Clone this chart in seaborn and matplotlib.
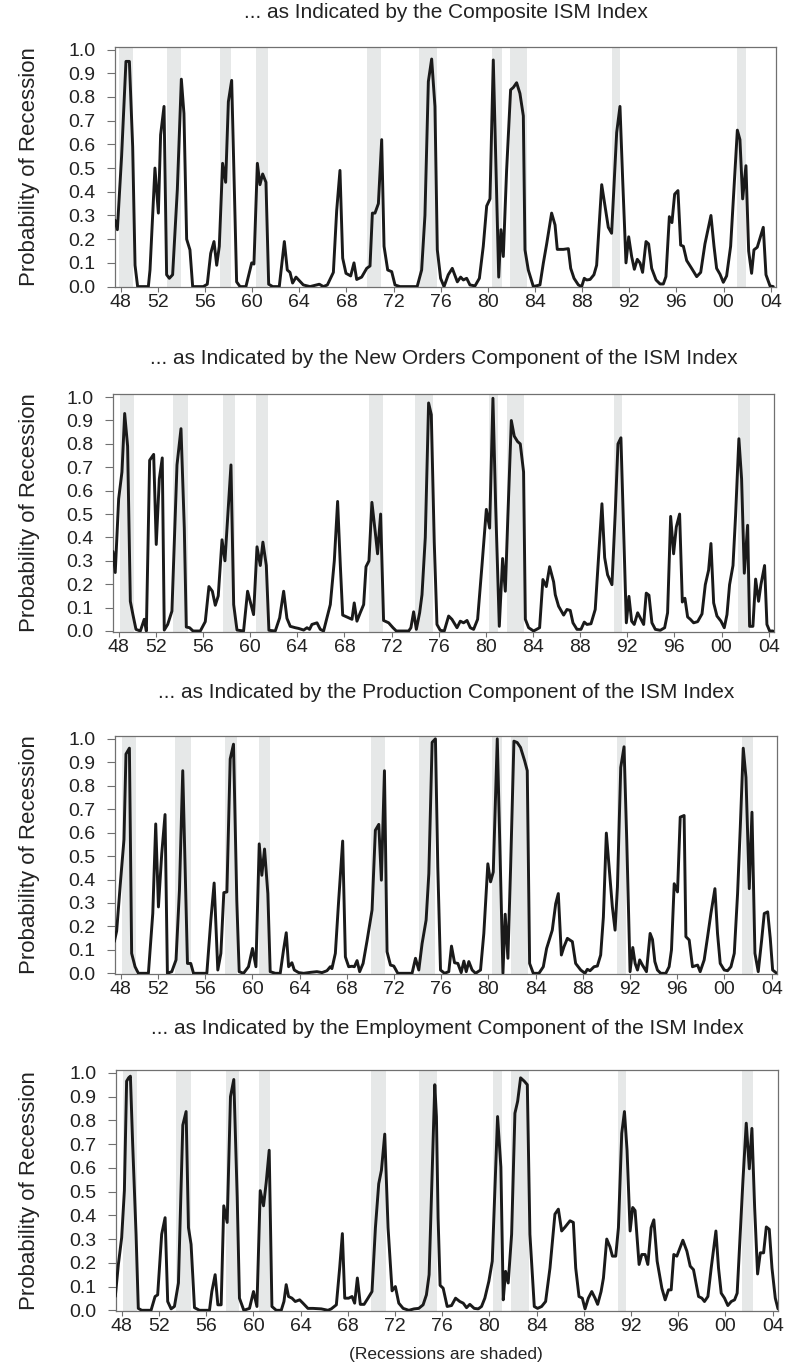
import numpy as np
import pandas as pd
import matplotlib
matplotlib.use("Agg")
import matplotlib.pyplot as plt
import seaborn as sns

# ---------------- data ----------------
titles = [
    "... as Indicated by the Composite ISM Index",
    "... as Indicated by the New Orders Component of the ISM Index",
    "... as Indicated by the Production Component of the ISM Index",
    "... as Indicated by the Employment Component of the ISM Index",
]
ylabel = "Probability of Recession"
footnote = "(Recessions are shaded)"

tick_years = [1948.85, 1952, 1956, 1960, 1964, 1968, 1972, 1976, 1980,
              1984, 1988, 1992, 1996, 2000, 2004]
tick_labels = ["48", "52", "56", "60", "64", "68", "72", "76", "80",
               "84", "88", "92", "96", "00", "04"]
ytick_values = [0.0, 0.1, 0.2, 0.3, 0.4, 0.5, 0.6, 0.7, 0.8, 0.9, 1.0]

# Composite ISM index
comp_year = [
    1948.36, 1948.56, 1948.92, 1949.29, 1949.58, 1949.86, 1950.06, 1950.28, 1951.19, 1951.33,
    1951.75, 1951.89, 1952.04, 1952.23, 1952.52, 1952.74, 1952.97, 1953.25, 1953.65, 1953.99,
    1954.21, 1954.44, 1954.72, 1954.95, 1955.85, 1956.19, 1956.48, 1956.76, 1956.99, 1957.21,
    1957.49, 1957.75, 1957.98, 1958.26, 1958.68, 1958.97, 1959.47, 1959.76, 1959.96, 1960.15,
    1960.44, 1960.66, 1960.89, 1961.17, 1961.40, 1961.74, 1962.30, 1962.73, 1962.98, 1963.21,
    1963.43, 1963.72, 1964.00, 1964.34, 1964.91, 1965.70, 1966.04, 1966.38,
    1966.89, 1967.17, 1967.45, 1967.68, 1967.96, 1968.36, 1968.64, 1968.87, 1969.29, 1969.72,
    1970.00, 1970.20, 1970.42, 1970.71, 1970.99, 1971.19, 1971.50, 1971.84, 1972.12, 1972.54,
    1973.11, 1973.67, 1974.00, 1974.38, 1974.66, 1974.95, 1975.23, 1975.51, 1975.71, 1975.99,
    1976.28, 1976.64, 1976.98, 1977.41, 1977.69, 1977.92, 1978.20, 1978.48, 1978.91, 1979.28,
    1979.61, 1979.90, 1980.18, 1980.46, 1980.69, 1980.92, 1981.11, 1981.31, 1981.59, 1981.93,
    1982.16, 1982.44, 1982.72, 1983.01, 1983.15, 1983.43, 1983.86, 1984.42, 1984.71, 1984.99,
    1985.41,
    1985.70, 1985.89, 1986.40, 1986.83, 1987.03, 1987.31, 1987.68, 1987.96, 1988.18, 1988.38,
    1988.67, 1989.00, 1989.23, 1989.66, 1989.94, 1990.22, 1990.50, 1990.93, 1991.21, 1991.44,
    1991.72, 1991.95, 1992.20, 1992.43, 1992.68, 1992.91, 1993.13, 1993.42, 1993.64, 1993.90,
    1994.27, 1994.61, 1994.89, 1995.11, 1995.40, 1995.62, 1995.85, 1996.13, 1996.36, 1996.59,
    1996.87, 1997.29, 1997.72, 1998.06, 1998.42, 1998.93, 1999.19, 1999.41, 1999.70, 1999.98,
    2000.26, 2000.60, 2000.88, 2001.17, 2001.39, 2001.62, 2001.90, 2002.13, 2002.38, 2002.58,
    2002.86, 2003.37, 2003.60, 2003.94, 2004.22,
]
comp_prob = [
    0.28, 0.24, 0.55, 0.95, 0.95, 0.59, 0.09, 0.0, 0.0, 0.07,
    0.50, 0.41, 0.31, 0.64, 0.76, 0.05, 0.035, 0.05, 0.41, 0.875,
    0.73, 0.20, 0.155, 0.0, 0.0, 0.01, 0.14, 0.19, 0.09, 0.17,
    0.52, 0.44, 0.78, 0.87, 0.02, 0.0, 0.0, 0.06, 0.10, 0.095,
    0.52, 0.43, 0.475, 0.44, 0.01, 0.0, 0.0, 0.19, 0.07, 0.06,
    0.015, 0.04, 0.025, 0.007, 0.0, 0.01, 0.0, 0.007,
    0.06, 0.32, 0.49, 0.12, 0.056, 0.045, 0.10, 0.03, 0.04, 0.077,
    0.087, 0.31, 0.31, 0.35, 0.62, 0.17, 0.07, 0.063, 0.007, 0.0,
    0.0, 0.0, 0.0, 0.07, 0.30, 0.865, 0.96, 0.76, 0.155, 0.035,
    0.0, 0.05, 0.077, 0.02, 0.04, 0.028, 0.035, 0.007, 0.003, 0.035,
    0.17, 0.34, 0.37, 0.956, 0.49, 0.04, 0.24, 0.127, 0.49, 0.83,
    0.84, 0.86, 0.815, 0.72, 0.155, 0.07, 0.0, 0.007, 0.10, 0.18,
    0.31,
    0.26, 0.157, 0.157, 0.16, 0.077, 0.035, 0.007, 0.0, 0.035, 0.028,
    0.03, 0.05, 0.09, 0.43, 0.34, 0.25, 0.225, 0.65, 0.76, 0.45,
    0.10, 0.21, 0.127, 0.073, 0.115, 0.10, 0.06, 0.19, 0.18, 0.077,
    0.028, 0.011, 0.011, 0.042, 0.295, 0.27, 0.39, 0.405, 0.175, 0.17,
    0.11, 0.077, 0.042, 0.06, 0.18, 0.30, 0.17, 0.077, 0.052, 0.018,
    0.045, 0.17, 0.41, 0.66, 0.62, 0.37, 0.51, 0.15, 0.056, 0.155,
    0.166, 0.25, 0.05, 0.003, 0.0,
]

# New orders component
neword_year = [
    1948.36, 1948.55, 1948.84, 1949.12, 1949.35, 1949.60, 1949.83, 1950.05, 1950.31, 1950.68,
    1951.01, 1951.19, 1951.47, 1951.81, 1952.03, 1952.29, 1952.54, 1952.71, 1953.00, 1953.36,
    1953.79, 1954.13, 1954.41, 1954.58, 1954.86, 1955.15, 1955.77, 1956.19, 1956.50, 1956.79,
    1957.04, 1957.29, 1957.61, 1957.86, 1958.37, 1958.60, 1958.88, 1959.44, 1959.78, 1960.07,
    1960.29, 1960.58, 1960.86, 1961.08, 1961.37, 1961.59, 1962.13, 1962.50, 1962.84, 1963.12,
    1963.40, 1963.83, 1964.11, 1964.54, 1964.82, 1965.04, 1965.24, 1965.67, 1965.95, 1966.23,
    1966.80, 1967.14, 1967.42, 1967.65, 1967.85, 1968.21, 1968.64, 1968.83, 1969.06, 1969.34,
    1969.63, 1969.83, 1970.08, 1970.33, 1970.62, 1970.81, 1971.07, 1971.32, 1971.75, 1972.12,
    1972.40, 1973.02, 1973.45, 1973.64, 1973.87, 1974.10, 1974.38, 1974.58, 1974.86, 1975.14,
    1975.37, 1975.62, 1975.85, 1976.13, 1976.47, 1976.84, 1977.12, 1977.55, 1977.83, 1978.11,
    1978.40, 1978.68, 1978.96, 1979.30, 1979.67, 1980.04, 1980.32, 1980.60, 1980.83, 1981.14,
    1981.42, 1981.65, 1981.87, 1982.16, 1982.41, 1982.69, 1982.92, 1983.20, 1983.35, 1983.63,
    1984.05, 1984.56, 1984.84, 1985.13, 1985.41, 1985.75,
    1985.89, 1986.17, 1986.60, 1986.88, 1987.16, 1987.39, 1987.73, 1988.07, 1988.35, 1988.58,
    1988.92, 1989.28, 1989.57, 1989.85, 1990.08, 1990.33, 1990.70, 1990.98, 1991.21, 1991.46,
    1991.69, 1991.92, 1992.14, 1992.37, 1992.59, 1992.88, 1993.10, 1993.39, 1993.61, 1993.84,
    1994.09, 1994.38, 1994.80, 1995.17, 1995.42, 1995.68, 1995.93, 1996.16, 1996.44, 1996.67,
    1996.89, 1997.12, 1997.35, 1997.63, 1997.97, 1998.34, 1998.62, 1998.90, 1999.10, 1999.33,
    1999.61, 1999.95, 2000.23, 2000.46, 2000.68, 2000.97, 2001.19, 2001.47, 2001.70, 2001.93,
    2002.21, 2002.38, 2002.66, 2002.89, 2003.14, 2003.34, 2003.65, 2003.85, 2004.08, 2004.36,
]
neword_prob = [
    0.34, 0.25, 0.565, 0.68, 0.93, 0.79, 0.127, 0.07, 0.007, 0.0,
    0.05, 0.0, 0.73, 0.755, 0.37, 0.65, 0.74, 0.004, 0.028, 0.085,
    0.71, 0.865, 0.44, 0.017, 0.014, 0.0, 0.0, 0.04, 0.19, 0.17,
    0.11, 0.15, 0.39, 0.30, 0.71, 0.113, 0.004, 0.0, 0.17, 0.113,
    0.07, 0.36, 0.28, 0.38, 0.28, 0.003, 0.0, 0.056, 0.17, 0.054,
    0.02, 0.014, 0.011, 0.004, 0.014, 0.007, 0.028, 0.035, 0.007, 0.0,
    0.113, 0.30, 0.554, 0.28, 0.068, 0.06, 0.05, 0.12, 0.042, 0.078,
    0.113, 0.275, 0.30, 0.55, 0.42, 0.33, 0.50, 0.045, 0.035, 0.014,
    0.0, 0.0, 0.0, 0.014, 0.082, 0.007, 0.078, 0.155, 0.40, 0.975,
    0.925, 0.38, 0.028, 0.003, 0.0, 0.064, 0.05, 0.014, 0.042, 0.035,
    0.045, 0.014, 0.007, 0.05, 0.28, 0.52, 0.44, 0.995, 0.537, 0.02,
    0.31, 0.17, 0.494, 0.90, 0.833, 0.81, 0.80, 0.68, 0.05, 0.014,
    0.0, 0.014, 0.22, 0.19, 0.275, 0.21,
    0.155, 0.106, 0.068, 0.092, 0.088, 0.035, 0.007, 0.007, 0.038, 0.028,
    0.031, 0.092, 0.325, 0.544, 0.314, 0.24, 0.198, 0.508, 0.80, 0.826,
    0.424, 0.035, 0.148, 0.042, 0.028, 0.078, 0.056, 0.028, 0.162, 0.153,
    0.035, 0.007, 0.003, 0.014, 0.078, 0.49, 0.33, 0.445, 0.50, 0.124,
    0.14, 0.06, 0.05, 0.035, 0.04, 0.073, 0.198, 0.26, 0.374, 0.12,
    0.064, 0.042, 0.014, 0.07, 0.198, 0.28, 0.494, 0.822, 0.65, 0.247,
    0.452, 0.02, 0.02, 0.222, 0.127, 0.198, 0.28, 0.028, 0.0, 0.0,
]

# Production component
prod_year = [
    1948.30, 1948.50, 1948.84, 1949.12, 1949.29, 1949.58, 1949.77, 1950.06, 1950.34, 1951.19,
    1951.56, 1951.81, 1952.04, 1952.32, 1952.60, 1952.80, 1953.17, 1953.53, 1953.82, 1954.10,
    1954.30, 1954.50, 1954.78, 1955.01, 1956.14, 1956.48, 1956.76, 1957.07, 1957.33, 1957.58,
    1957.84, 1958.12, 1958.40, 1958.68, 1958.88, 1959.25, 1959.67, 1960.01, 1960.30, 1960.58,
    1960.80, 1961.03, 1961.31, 1961.51, 1961.94, 1962.36, 1962.64, 1962.87, 1963.07, 1963.35,
    1963.55, 1963.92, 1964.34, 1964.91, 1965.47, 1965.90, 1966.32, 1966.60,
    1966.74, 1967.03, 1967.31, 1967.65, 1967.88, 1968.16, 1968.44, 1968.64, 1968.87, 1969.09,
    1969.38, 1969.72, 1970.14, 1970.42, 1970.71, 1970.93, 1971.19, 1971.41, 1971.70, 1971.98,
    1972.32, 1972.83, 1973.53, 1973.82, 1974.10, 1974.38, 1974.72, 1974.95, 1975.23, 1975.51,
    1975.71, 1975.94, 1976.28, 1976.64, 1976.87, 1977.13, 1977.41, 1977.69, 1977.92, 1978.12,
    1978.34, 1978.62, 1978.91, 1979.33, 1979.61, 1979.95, 1980.18, 1980.41, 1980.75, 1981.03,
    1981.23, 1981.42, 1981.65, 1981.88, 1982.16, 1982.44, 1982.72, 1983.07, 1983.29, 1983.49,
    1983.80, 1984.28, 1984.65, 1984.93, 1985.41, 1985.70, 1985.92,
    1986.18, 1986.40, 1986.69, 1987.11, 1987.39, 1987.82, 1988.18, 1988.38, 1988.61, 1988.95,
    1989.23, 1989.51, 1989.74, 1989.99, 1990.30, 1990.50, 1990.73, 1990.93, 1991.21, 1991.49,
    1991.72, 1992.00, 1992.23, 1992.43, 1992.63, 1992.82, 1993.05, 1993.39, 1993.70, 1993.90,
    1994.10, 1994.32, 1994.60, 1995.03, 1995.31, 1995.51, 1995.74, 1996.02, 1996.25, 1996.58,
    1996.73, 1997.01, 1997.29, 1997.72, 1997.94, 1998.28, 1998.57, 1998.85, 1999.19, 1999.41,
    1999.64, 1999.98, 2000.26, 2000.55, 2000.83, 2001.11, 2001.34, 2001.59, 2001.82, 2002.10,
    2002.33, 2002.58, 2002.86, 2003.15, 2003.37, 2003.66, 2003.88, 2004.08, 2004.42,
]
prod_prob = [
    0.135, 0.18, 0.40, 0.57, 0.935, 0.96, 0.085, 0.028, 0.0, 0.0,
    0.255, 0.637, 0.283, 0.51, 0.677, 0.0, 0.007, 0.057, 0.354, 0.864,
    0.453, 0.042, 0.042, 0.0, 0.0, 0.227, 0.385, 0.014, 0.085, 0.344,
    0.347, 0.914, 0.977, 0.31, 0.007, 0.0, 0.028, 0.106, 0.028, 0.552,
    0.418, 0.53, 0.34, 0.007, 0.0, 0.0, 0.10, 0.173, 0.028, 0.045,
    0.014, 0.003, 0.0, 0.004, 0.007, 0.003, 0.011, 0.028,
    0.02, 0.085, 0.31, 0.564, 0.07, 0.028, 0.03, 0.028, 0.054, 0.007,
    0.042, 0.14, 0.27, 0.61, 0.635, 0.397, 0.864, 0.092, 0.035, 0.031,
    0.0, 0.0, 0.0, 0.064, 0.014, 0.127, 0.227, 0.425, 0.985, 1.0,
    0.453, 0.014, 0.0, 0.007, 0.116, 0.045, 0.042, 0.003, 0.052, 0.007,
    0.05, 0.014, 0.0, 0.014, 0.17, 0.467, 0.39, 0.432, 1.0, 0.425,
    0.0, 0.252, 0.064, 0.453, 0.99, 0.984, 0.963, 0.906, 0.864, 0.042,
    0.0, 0.0, 0.028, 0.106, 0.184, 0.297, 0.34,
    0.078, 0.113, 0.149, 0.135, 0.042, 0.014, 0.0, 0.017, 0.011, 0.028,
    0.031, 0.078, 0.24, 0.598, 0.41, 0.283, 0.184, 0.368, 0.878, 0.966,
    0.567, 0.007, 0.11, 0.042, 0.014, 0.057, 0.035, 0.007, 0.17, 0.144,
    0.05, 0.014, 0.0, 0.0, 0.028, 0.10, 0.382, 0.347, 0.666, 0.673,
    0.156, 0.142, 0.028, 0.035, 0.007, 0.057, 0.156, 0.255, 0.361, 0.17,
    0.042, 0.014, 0.011, 0.028, 0.085, 0.34, 0.623, 0.96, 0.836, 0.361,
    0.687, 0.085, 0.007, 0.142, 0.255, 0.262, 0.149, 0.014, 0.0,
]

# Employment component
empl_year = [
    1948.30, 1948.56, 1948.84, 1949.07, 1949.26, 1949.43, 1949.58, 1949.77, 1950.06, 1950.25,
    1950.54, 1951.33, 1951.67, 1951.89, 1952.23, 1952.52, 1952.74, 1953.03, 1953.31, 1953.65,
    1954.02, 1954.30, 1954.50, 1954.72, 1955.01, 1955.43, 1956.28, 1956.48, 1956.76, 1956.99,
    1957.27, 1957.49, 1957.78, 1958.06, 1958.34, 1958.63, 1958.82, 1959.19, 1959.67, 1960.01,
    1960.30, 1960.58, 1960.86, 1961.09, 1961.34, 1961.57, 1961.94, 1962.36, 1962.59, 1962.78,
    1962.98, 1963.27, 1963.55, 1963.92, 1964.20, 1964.62, 1965.05, 1965.75, 1966.32,
    1966.60, 1967.03, 1967.31, 1967.54, 1967.74, 1968.07, 1968.36, 1968.58, 1968.81, 1969.06,
    1969.38, 1969.71, 1970.05, 1970.34, 1970.62, 1970.85, 1971.13, 1971.41, 1971.75, 1972.03,
    1972.32, 1972.69, 1973.17, 1973.62, 1974.01, 1974.38, 1974.66, 1974.89, 1975.14, 1975.37,
    1975.51, 1975.65, 1975.82, 1976.08, 1976.42, 1976.79, 1977.13, 1977.49, 1977.78, 1978.06,
    1978.34, 1978.71, 1979.05, 1979.33, 1979.61, 1979.95, 1980.24, 1980.46, 1980.69, 1980.97,
    1981.17, 1981.37, 1981.59, 1981.88, 1982.16, 1982.39, 1982.64, 1982.95, 1983.21, 1983.43,
    1983.80, 1984.08, 1984.42, 1984.76, 1985.13, 1985.55, 1985.84,
    1986.12, 1986.40, 1986.83, 1987.11, 1987.31, 1987.59, 1987.87, 1988.10, 1988.38, 1988.67,
    1988.95, 1989.17, 1989.46, 1989.66, 1989.94, 1990.22, 1990.42, 1990.70, 1990.93, 1991.21,
    1991.44, 1991.66, 1991.92, 1992.14, 1992.34, 1992.68, 1992.91, 1993.19, 1993.42, 1993.70,
    1993.93, 1994.21, 1994.61, 1994.89, 1995.17, 1995.40, 1995.62, 1995.88, 1996.39, 1996.73,
    1997.01, 1997.29, 1997.72, 1998.00, 1998.22, 1998.51, 1998.79, 1999.19, 1999.41, 1999.64,
    1999.92, 2000.20, 2000.49, 2000.77, 2000.99, 2001.25, 2001.48, 2001.76, 2002.02, 2002.24,
    2002.47, 2002.72, 2002.95, 2003.23, 2003.46, 2003.71, 2003.94, 2004.22, 2004.45,
]
empl_prob = [
    0.058, 0.193, 0.306, 0.504, 0.965, 0.979, 0.986, 0.703, 0.32, 0.008,
    0.0, 0.0, 0.058, 0.065, 0.32, 0.39, 0.037, 0.006, 0.016, 0.115,
    0.78, 0.837, 0.348, 0.278, 0.011, 0.0, 0.0, 0.079, 0.15, 0.023,
    0.023, 0.44, 0.37, 0.90, 0.972, 0.476, 0.051, 0.0, 0.008, 0.079,
    0.016, 0.504, 0.44, 0.54, 0.674, 0.016, 0.0, 0.0, 0.037, 0.108,
    0.058, 0.051, 0.037, 0.044, 0.03, 0.008, 0.008, 0.006, 0.0,
    0.006, 0.023, 0.178, 0.323, 0.051, 0.051, 0.058, 0.03, 0.136, 0.025,
    0.025, 0.051, 0.079, 0.348, 0.533, 0.59, 0.742, 0.348, 0.082, 0.10,
    0.03, 0.008, 0.0, 0.006, 0.008, 0.023, 0.065, 0.15, 0.56, 0.95,
    0.815, 0.39, 0.105, 0.093, 0.016, 0.02, 0.051, 0.037, 0.03, 0.011,
    0.025, 0.008, 0.006, 0.016, 0.051, 0.122, 0.207, 0.511, 0.816, 0.603,
    0.044, 0.164, 0.115, 0.32, 0.83, 0.88, 0.979, 0.965, 0.95, 0.32,
    0.016, 0.008, 0.016, 0.037, 0.178, 0.405, 0.426,
    0.334, 0.35, 0.377, 0.37, 0.178, 0.058, 0.051, 0.006, 0.051, 0.079,
    0.051, 0.025, 0.079, 0.136, 0.30, 0.266, 0.228, 0.228, 0.348, 0.745,
    0.837, 0.674, 0.334, 0.433, 0.42, 0.193, 0.235, 0.235, 0.193, 0.348,
    0.381, 0.207, 0.093, 0.044, 0.086, 0.086, 0.235, 0.228, 0.295, 0.249,
    0.186, 0.171, 0.058, 0.051, 0.037, 0.058, 0.178, 0.334, 0.178, 0.072,
    0.051, 0.02, 0.037, 0.044, 0.072, 0.32, 0.547, 0.788, 0.596, 0.766,
    0.433, 0.153, 0.242, 0.242, 0.351, 0.341, 0.178, 0.051, 0.006,
]

# Recession shading (start, end) in years, as drawn in each panel
comp_rec_start = [1948.70, 1952.74, 1957.27, 1960.32, 1969.71, 1974.18, 1980.32, 1981.88, 1990.50, 2001.17]
comp_rec_end = [1949.91, 1954.00, 1958.23, 1961.31, 1970.93, 1975.65, 1981.17, 1983.35, 1991.21, 2001.87]
neword_rec_start = [1948.98, 1953.45, 1957.72, 1960.49, 1970.05, 1974.01, 1980.23, 1981.79, 1990.84, 2001.36]
neword_rec_end = [1950.17, 1954.69, 1958.74, 1961.51, 1971.27, 1975.51, 1981.00, 1983.20, 1991.55, 2002.38]
prod_rec_start = [1948.93, 1953.45, 1957.69, 1960.52, 1970.05, 1974.10, 1980.32, 1981.93, 1990.93, 2001.45]
prod_rec_end = [1950.14, 1954.78, 1958.68, 1961.51, 1971.27, 1975.51, 1981.17, 1983.35, 1991.64, 2002.38]
empl_rec_start = [1948.93, 1953.45, 1957.69, 1960.46, 1970.00, 1974.01, 1980.29, 1981.79, 1990.87, 2001.39]
empl_rec_end = [1950.11, 1954.72, 1958.74, 1961.45, 1971.27, 1975.54, 1981.03, 1983.32, 1991.58, 2002.33]

series = [
    (comp_year, comp_prob, comp_rec_start, comp_rec_end),
    (neword_year, neword_prob, neword_rec_start, neword_rec_end),
    (prod_year, prod_prob, prod_rec_start, prod_rec_end),
    (empl_year, empl_prob, empl_rec_start, empl_rec_end),
]
for yrs, vals, rs, re_ in series:
    assert len(yrs) == len(vals), (len(yrs), len(vals))
    assert len(rs) == len(re_)

# ---------------- styling / layout ----------------
sns.set_theme(style="white")
plt.rcParams['font.family'] = ['Liberation Sans', 'DejaVu Sans']

W, H = 786, 1369
LINE = "#1a1a1a"
SHADE = "#e6e8e8"
SPINE = "#707070"
TXT = "#222222"

# axes boxes in pixels: left, top, right, bottom
boxes = [
    (115, 46.7, 776, 287.3),
    (113, 394.3, 774, 631.7),
    (115, 736.0, 777, 974.0),
    (116, 1070.0, 778, 1311.0),
]
title_y = [13, 358, 693, 1028]

fig = plt.figure(figsize=(W / 100, H / 100), dpi=100)

for i, ((yrs, vals, rs, re_), (l, t, r, b)) in enumerate(zip(series, boxes)):
    ax = fig.add_axes([l / W, 1 - b / H, (r - l) / W, (b - t) / H])
    for s, e in zip(rs, re_):
        ax.axvspan(s, e, color=SHADE, lw=0, zorder=0)
    df = pd.DataFrame({"year": yrs, "prob": vals})
    sns.lineplot(data=df, x="year", y="prob", ax=ax, color=LINE, lw=2.1,
                 estimator=None, zorder=3)
    ax.set_xlim(1948.36, 2004.45)
    ax.set_ylim(-0.003, 1.012)
    ax.set_xticks(tick_years)
    ax.set_xticklabels(tick_labels)
    ax.set_yticks(ytick_values)
    ax.set_yticklabels([f"{v:.1f}" for v in ytick_values])
    ax.set_xlabel("")
    ax.set_ylabel("")
    for sp in ax.spines.values():
        sp.set_color(SPINE)
        sp.set_linewidth(0.9)
    ax.tick_params(axis="y", which="major", direction="out", length=6, width=0.8,
                   color=SPINE, pad=8, labelsize=14, labelcolor=TXT, left=True)
    ax.tick_params(axis="x", which="major", direction="out", length=3.5, width=0.8,
                   color=SPINE, pad=1.5, labelsize=14, labelcolor=TXT, bottom=True)
    ax.grid(False)
    ax.set_facecolor("white")

    cx = (l + r) / 2 / W
    fig.text(cx, 1 - title_y[i] / H, titles[i], ha="center", va="center",
             fontsize=15, color=TXT)
    fig.text(30 / W, 1 - ((t + b) / 2) / H, ylabel, rotation=90, ha="center",
             va="center", fontsize=16, color=TXT)

fig.text(446 / W, 1 - 1355 / H, footnote, ha="center", va="center",
         fontsize=12.5, color=TXT)

fig.savefig("out.png", dpi=100, facecolor="white")
